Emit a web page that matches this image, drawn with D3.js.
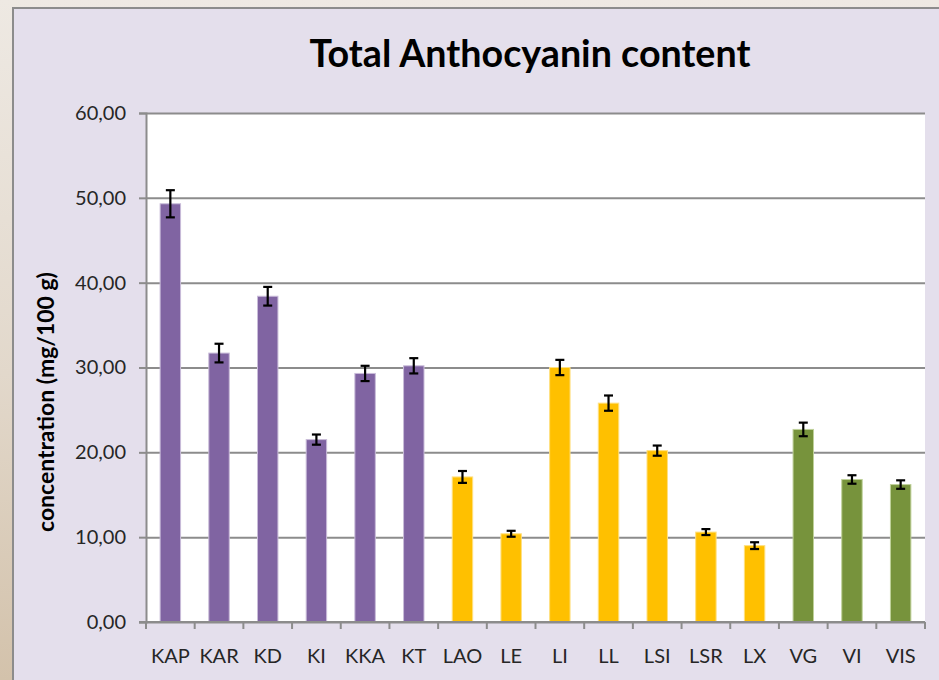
<!DOCTYPE html>
<meta charset="utf-8">
<style>
  body { margin: 0; background: #ece6de; }
  svg { display: block; }
  .axis text { font-family: Lato, "Open Sans", sans-serif; fill: #262626; }
</style>
<body>
<script src="https://cdn.jsdelivr.net/npm/d3@7/dist/d3.min.js"></script>
<script>
// data
var categories = ["KAP", "KAR", "KD", "KI", "KKA", "KT", "LAO", "LE", "LI", "LL", "LSI", "LSR", "LX", "VG", "VI", "VIS"];
var values = [49.3, 31.7, 38.4, 21.5, 29.3, 30.2, 17.1, 10.4, 30.0, 25.8, 20.2, 10.6, 9.0, 22.7, 16.8, 16.2];
var errors = [1.6, 1.1, 1.1, 0.6, 0.9, 0.9, 0.7, 0.35, 0.9, 0.9, 0.6, 0.35, 0.4, 0.8, 0.5, 0.5];
var groups = ["K", "K", "K", "K", "K", "K", "L", "L", "L", "L", "L", "L", "L", "V", "V", "V"];
var yTicks = [0, 10, 20, 30, 40, 50, 60];

var width = 939, height = 680;
var plot = {left: 146, right: 925, top: 113, bottom: 622};

var color = d3.scaleOrdinal()
    .domain(["K", "L", "V"])
    .range(["#8064a2", "#ffc000", "#77933c"]);
var edge = d3.scaleOrdinal()
    .domain(["K", "L", "V"])
    .range(["#c9bcd9", "#ffe080", "#bfd19a"]);

var comma = d3.formatLocale({decimal: ",", thousands: ".", grouping: [3], currency: ["", ""]}).format(".2f");

var svg = d3.select("body").append("svg")
    .attr("width", width)
    .attr("height", height);

// page background
var defs = svg.append("defs");
var grad = defs.append("linearGradient")
    .attr("id", "bg")
    .attr("x1", 0).attr("y1", 0).attr("x2", 0).attr("y2", 1);
grad.append("stop").attr("offset", "0%").attr("stop-color", "#eee9e3");
grad.append("stop").attr("offset", "55%").attr("stop-color", "#e2d8cb");
grad.append("stop").attr("offset", "100%").attr("stop-color", "#d3c2ab");
svg.append("rect")
    .attr("width", width).attr("height", height)
    .attr("fill", "url(#bg)");

// chart frame
svg.append("rect")
    .attr("x", 13).attr("y", 8)
    .attr("width", width).attr("height", height)
    .attr("fill", "#e4dfec")
    .attr("stroke", "#8c8c8c")
    .attr("stroke-width", 2);

svg.append("rect")
    .attr("x", plot.left).attr("y", plot.top)
    .attr("width", plot.right - plot.left)
    .attr("height", plot.bottom - plot.top)
    .attr("fill", "#fff");

var x = d3.scaleBand()
    .domain(categories)
    .range([plot.left, plot.right]);

var y = d3.scaleLinear()
    .domain([0, 60])
    .range([plot.bottom, plot.top]);

// gridlines
svg.append("g")
    .attr("transform", "translate(" + plot.left + ",0)")
    .call(d3.axisLeft(y).tickValues(yTicks).tickSize(-(plot.right - plot.left)).tickFormat(""))
    .call(function(g) { g.select(".domain").remove(); })
    .selectAll("line")
    .attr("stroke", "#8c8c8c")
    .attr("stroke-width", 2);

// y axis
var yAxis = svg.append("g")
    .attr("class", "axis")
    .attr("transform", "translate(" + plot.left + ",0)")
    .call(d3.axisLeft(y).tickValues(yTicks).tickSize(7).tickPadding(13).tickFormat(comma));
yAxis.select(".domain").attr("stroke", "#8c8c8c").attr("stroke-width", 2);
yAxis.selectAll("line").attr("stroke", "#8c8c8c").attr("stroke-width", 2);
yAxis.selectAll("text").attr("font-size", 20);

// bars
svg.append("g")
  .selectAll("rect")
  .data(categories)
  .enter().append("rect")
    .attr("x", function(d) { return x(d) + x.bandwidth() * 0.29; })
    .attr("width", x.bandwidth() * 0.42)
    .attr("y", function(d, i) { return y(values[i]); })
    .attr("height", function(d, i) { return y(0) - y(values[i]); })
    .attr("fill", function(d, i) { return color(groups[i]); })
    .attr("stroke", function(d, i) { return edge(groups[i]); })
    .attr("stroke-width", 1);

// error bars
var eb = svg.append("g")
    .attr("stroke", "#000")
    .attr("stroke-width", 2.2)
  .selectAll("g")
  .data(categories)
  .enter().append("g")
    .attr("transform", function(d) { return "translate(" + (x(d) + x.bandwidth() / 2) + ",0)"; });
eb.append("line")
    .attr("y1", function(d, i) { return y(values[i] + errors[i]); })
    .attr("y2", function(d, i) { return y(values[i] - errors[i]); });
eb.append("line")
    .attr("x1", -4.5).attr("x2", 4.5)
    .attr("y1", function(d, i) { return y(values[i] + errors[i]); })
    .attr("y2", function(d, i) { return y(values[i] + errors[i]); });
eb.append("line")
    .attr("x1", -4.5).attr("x2", 4.5)
    .attr("y1", function(d, i) { return y(values[i] - errors[i]); })
    .attr("y2", function(d, i) { return y(values[i] - errors[i]); });

// x axis
var xAxis = svg.append("g")
    .attr("class", "axis")
    .attr("transform", "translate(0," + plot.bottom + ")")
    .call(d3.axisBottom(x).tickSize(0).tickPadding(27));
xAxis.select(".domain").remove();
xAxis.selectAll("text").attr("font-size", 20);
xAxis.append("line")
    .attr("x1", plot.left - 7).attr("x2", plot.right)
    .attr("stroke", "#8c8c8c").attr("stroke-width", 2);
xAxis.selectAll(".sep")
    .data(categories.concat([null]))
  .enter().append("line")
    .attr("class", "sep")
    .attr("x1", function(d) { return d ? x(d) : plot.right; })
    .attr("x2", function(d) { return d ? x(d) : plot.right; })
    .attr("y1", 0).attr("y2", 7)
    .attr("stroke", "#8c8c8c").attr("stroke-width", 2);

// title
var title = svg.append("text")
    .attr("x", 530)
    .attr("y", 67)
    .attr("text-anchor", "middle")
    .attr("font-family", "Lato, 'Open Sans', sans-serif")
    .attr("font-weight", "bold")
    .attr("font-size", 36)
    .attr("fill", "#000")
    .text("Total Anthocyanin content");
title.attr("font-size", 36 * 441 / title.node().getComputedTextLength());

// y axis title
var ytitle = svg.append("text")
    .attr("transform", "translate(54,402) rotate(-90)")
    .attr("text-anchor", "middle")
    .attr("font-family", "Lato, 'Open Sans', sans-serif")
    .attr("font-weight", "bold")
    .attr("font-size", 17)
    .attr("fill", "#000")
    .text("concentration (mg/100 g)");
ytitle.attr("font-size", 17 * 260 / ytitle.node().getComputedTextLength());
</script>
</body>
